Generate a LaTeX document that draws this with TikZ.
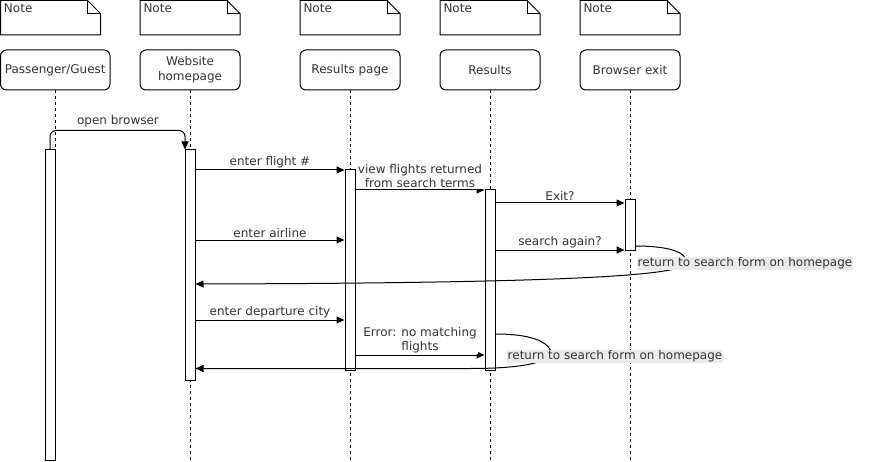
\documentclass[tikz,border=0pt]{standalone}
\usepackage{fontspec}
\setmainfont{DejaVu Sans}
\usetikzlibrary{arrows.meta,calc}
\definecolor{txt}{HTML}{333333}
\definecolor{lblbg}{HTML}{EBEBEB}
\begin{document}
\begin{tikzpicture}[x=1pt,y=-1pt,
  font=\fontsize{12}{14}\selectfont, text=txt, line width=1pt,
  header/.style={draw=black, rounded corners=6pt, minimum width=100pt, minimum height=40pt, align=center, inner sep=0pt, font=\fontsize{12}{15}\selectfont},
  notebox/.style={draw=black, line join=miter},
  notetext/.style={anchor=base west, inner sep=0pt},
  bar/.style={draw=black, fill=white, minimum width=10pt, inner sep=0pt},
  life/.style={draw=black, dash pattern=on 3pt off 3pt},
  msg/.style={draw=black, -{Triangle[length=8pt,width=7pt]}},
  mlabel/.style={fill=white, inner sep=1pt, align=center},
  rlabel/.style={fill=lblbg, inner xsep=1pt, inner ysep=0pt, text height=9.5pt, text depth=3.5pt},
]
\useasboundingbox (0,0) rectangle (877,462);

% notes
\foreach \x/\n in {0.5/n1,140/n2,300/n3,440/n4,580/n5}{
  \draw[notebox] (\x,0.5) -- ++(87,0) -- ++(13,13) -- ++(0,21.5) -- ++(-100,0) -- cycle;
  \draw[notebox] (\x+87,0.5) -- ++(0,13) -- ++(13,0);
  \node[notetext] (\n) at (\x+3,13) {Note};
}

% lifeline headers
\node[header, minimum width=109.5pt] (p)  at (55.25,70) {Passenger/Guest};
\node[header] (w)  at (190,70) {Website\\homepage};
\node[header] (rp) at (350,70) {Results page};
\node[header] (r)  at (490,70) {Results};
\node[header] (b)  at (630,70) {Browser exit};

% lifelines
\foreach \n in {p,w,rp,r,b}{
  \draw[life] (\n.south) -- (\n.south |- 0,462);
}

% activation bars
\node[bar, minimum height=310pt] (pb)  at (50,305) {};
\node[bar, minimum height=230pt] (wb)  at (190,265) {};
\node[bar, minimum height=200pt] (rpb) at (350,270) {};
\node[bar, minimum height=180pt] (rb)  at (490,280) {};
\node[bar, minimum height=50pt]  (bb)  at (630,225) {};

% messages
\draw[msg, rounded corners=6pt] (pb.north) -- (pb.north |- 0,130.5) -| ($(wb.north west)+(0.5,0)$);
\node[mlabel] (lob) at (118,121) {open browser};

\draw[msg] (wb.east |- 0,170) -- node[mlabel, above=0.5pt] {enter flight \#} (rpb.west |- 0,170);
\draw[msg] (rpb.east |- 0,190) -- node[mlabel, above=0.5pt] {view flights returned\\from search terms} (rb.west |- 0,190);
\draw[msg] (rb.east |- 0,203) -- node[mlabel, above=0.5pt] {Exit?} (bb.west |- 0,203);
\draw[msg] (wb.east |- 0,240) -- node[mlabel, above=0.5pt] {enter airline} (rpb.west |- 0,240);
\draw[msg] (rb.east |- 0,250) -- node[mlabel, above=0.5pt] {search again?} (bb.west |- 0,250);

\draw[msg] (bb.east |- 0,246) .. controls (668,246) and (688,252) .. (686,263)
  .. controls (684,274) and (600,283) .. (wb.east |- 0,284);
\node[rlabel] (rl1) at (745,263.5) {return to search form on homepage};

\draw[msg] (wb.east |- 0,320) -- node[mlabel, above=0.5pt] {enter departure city} (rpb.west |- 0,320);
\draw[msg] (rpb.east |- 0,355) -- node[mlabel, above=0.5pt] {Error: no matching\\flights} (rb.west |- 0,355);

\draw[msg] (rb.east |- 0,334) .. controls (527,334) and (550,340) .. (552,355)
  .. controls (540,366) and (505,368.5) .. (470,368.5) -- (wb.east |- 0,368.5);
\node[rlabel] (rl2) at (615,356) {return to search form on homepage};
\end{tikzpicture}
\end{document}
